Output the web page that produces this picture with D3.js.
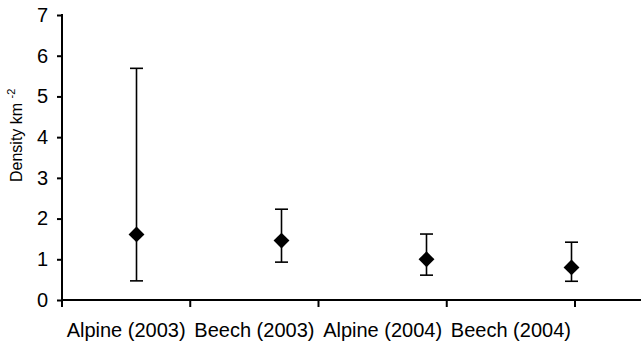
<!DOCTYPE html>
<html lang="en">
<head>
    <meta charset="UTF-8">
    <title>Density</title>
    <script src="https://cdnjs.cloudflare.com/ajax/libs/d3/7.8.5/d3.min.js"></script>
    <style>
        body { margin: 0; background: #fff; }
        text { font-family: "Liberation Sans", Arial, sans-serif; fill: #000; }
    </style>
</head>
<body>
<svg width="641" height="345"></svg>
<script>
    const categories = ['Alpine (2003)', 'Beech (2003)', 'Alpine (2004)', 'Beech (2004)'];
    const means = [1.61, 1.46, 1.00, 0.80];
    const upper = [5.69, 2.23, 1.62, 1.42];
    const lower = [0.47, 0.93, 0.61, 0.46];
    const yTicks = [0, 1, 2, 3, 4, 5, 6, 7];

    const svg = d3.select('svg');
    const FONT = '"Liberation Sans", Arial, sans-serif';

    const y = d3.scaleLinear().domain([0, 7]).range([300, 15]);
    // category axis (labels between ticks)
    const xAxisScale = d3.scaleBand().domain(categories).range([62, 575]);
    // the markers sit on a slightly wider spacing than the axis bands
    const xPts = d3.scaleBand().domain(categories).range([64, 644]);

    // y axis
    const yAxis = svg.append('g')
        .attr('transform', 'translate(62,0)')
        .call(d3.axisLeft(y).tickValues(yTicks).tickSize(5).tickPadding(9).tickFormat(d3.format('d')));
    yAxis.select('.domain').attr('stroke', '#000').attr('stroke-width', 2).attr('d', 'M0,14V300');
    yAxis.selectAll('.tick line').attr('stroke', '#000').attr('stroke-width', 2);
    yAxis.selectAll('.tick text').attr('font-size', '20px').attr('font-family', FONT);

    // x axis
    const xAxis = svg.append('g')
        .attr('transform', 'translate(0,300)')
        .call(d3.axisBottom(xAxisScale).tickSize(0).tickPadding(23));
    xAxis.select('.domain').attr('stroke', '#000').attr('stroke-width', 2).attr('d', 'M61,0H641');
    xAxis.selectAll('.tick text').attr('font-size', '20px').attr('font-family', FONT);
    // tick marks at the band boundaries
    const bounds = categories.map(c => xAxisScale(c)).concat([xAxisScale.range()[1]]);
    xAxis.selectAll('.bound').data(bounds).enter().append('line')
        .attr('x1', d => d).attr('x2', d => d)
        .attr('y1', 0).attr('y2', 7)
        .attr('stroke', '#000').attr('stroke-width', 2);

    // y axis title
    const title = svg.append('text')
        .attr('transform', 'translate(22,182) rotate(-90)')
        .attr('text-anchor', 'start')
        .attr('font-size', '16px');
    title.append('tspan').text('Density km ');
    title.append('tspan').attr('font-size', '11px').attr('dy', '-7').text('-2');

    // error bars
    const cx = i => xPts(categories[i]) + xPts.bandwidth() / 2;
    const g = svg.append('g');
    categories.forEach((c, i) => {
        g.append('line')
            .attr('x1', cx(i)).attr('x2', cx(i))
            .attr('y1', y(lower[i])).attr('y2', y(upper[i]))
            .attr('stroke', '#000').attr('stroke-width', 1.6);
        [upper[i], lower[i]].forEach(v => {
            g.append('line')
                .attr('x1', cx(i) - 6.5).attr('x2', cx(i) + 6.5)
                .attr('y1', y(v)).attr('y2', y(v))
                .attr('stroke', '#000').attr('stroke-width', 1.6);
        });
        g.append('path')
            .attr('d', d3.symbol(d3.symbolDiamond2 || d3.symbolSquare, 160)())
            .attr('transform', `translate(${cx(i)},${y(means[i])}) rotate(${d3.symbolDiamond2 ? 0 : 45})`)
            .attr('fill', '#000');
    });
</script>
</body>
</html>
